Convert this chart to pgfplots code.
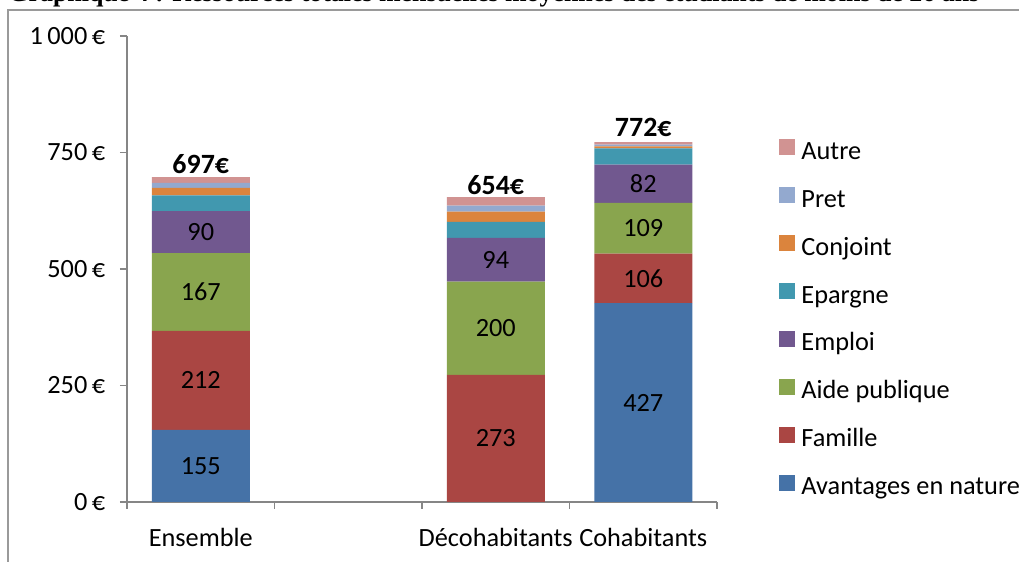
\documentclass[border=0pt]{standalone}
\usepackage{fontspec}
\setmainfont{Carlito}
\newfontfamily\titlefont{Liberation Serif}
\usepackage{pgfplots}
\usepackage{pgfplotstable}
\pgfplotsset{compat=1.18}

\definecolor{cAv}{HTML}{4572A7}
\definecolor{cFam}{HTML}{AA4643}
\definecolor{cAide}{HTML}{89A54E}
\definecolor{cEmp}{HTML}{71588F}
\definecolor{cEp}{HTML}{4198AF}
\definecolor{cConj}{HTML}{DB843D}
\definecolor{cPret}{HTML}{93A9CF}
\definecolor{cAutre}{HTML}{D19392}
\definecolor{axisgray}{HTML}{868686}
\definecolor{framegray}{HTML}{9A9A9A}

% ressources mensuelles moyennes (euros)
\pgfplotstableread{
x av fam aide emp ep conj pret autre total
0 155 212 167 90 34 16 11 12 697
2 0 273 200 94 34 22 13 18 654
3 427 106 109 82 35 4 4 5 772
}\ressources

\pgfplotsset{
  seg/.style={
    draw=none, fill=#1,
    point meta=explicit symbolic,
    nodes near coords={\ifnum\pgfplotspointmeta>0\relax\pgfplotspointmeta\fi},
    every node near coord/.append style={anchor=center, inner sep=0pt,
      font=\fontsize{13.2}{15}\selectfont, text=black},
  },
}

\begin{document}
\begin{tikzpicture}
\useasboundingbox (0,0) rectangle (509.5bp,281bp);
\draw[framegray, line width=1bp] (4bp,0) -- (4bp,276bp) -- (509.5bp,276bp);
\begin{scope}
\clip (0,0) rectangle (509.5bp,281bp);
\node[anchor=base west, inner sep=0pt, font=\titlefont\bfseries\fontsize{13}{15}\selectfont]
  at (4bp,280.4bp) {Graphique 4 : Ressources totales mensuelles moyennes des étudiants de moins de 26 ans};
\end{scope}
\begin{axis}[
  at={(63.5bp,30bp)}, anchor=south west,
  scale only axis, width=295bp, height=233bp,
  ybar stacked, bar width=49bp,
  xmin=-0.5, xmax=3.5, ymin=0, ymax=1000,
  xtick={-0.5,0.5,1.5,2.5,3.5}, xticklabels={},
  extra x ticks={0,2,3},
  extra x tick labels={Ensemble,Décohabitants,Cohabitants},
  extra x tick style={major tick length=0pt},
  ytick={0,250,500,750,1000},
  yticklabels={0\,€,250\,€,500\,€,750\,€,1\,000\,€},
  axis x line*=bottom, axis y line*=left,
  axis line style={draw=axisgray, line width=0.8bp},
  tick style={draw=axisgray, line width=0.8bp},
  tick align=outside, major tick length=3.5bp,
  ticklabel style={font=\fontsize{13.2}{15}\selectfont, text=black},
  yticklabel style={inner sep=0pt, xshift=-7.25bp},
  xticklabel style={inner sep=0pt, yshift=-13bp},
  clip=false,
  reverse legend,
  legend cell align=left,
  legend image code/.code={\fill[#1] (0bp,-2.5bp) rectangle (8bp,5.5bp); \path (11bp,0);},
  legend style={at={(1.1051,0.7811)}, anchor=north west, draw=none, fill=none,
    inner sep=0pt, row sep=12bp, nodes={inner sep=0pt},
    font=\fontsize{13.2}{15}\selectfont},
]
\addplot[seg=cAv] table[x=x, y=av, meta=av] {\ressources};
\addlegendentry{\strut Avantages en nature}
\addplot[seg=cFam] table[x=x, y=fam, meta=fam] {\ressources};
\addlegendentry{\strut Famille}
\addplot[seg=cAide] table[x=x, y=aide, meta=aide] {\ressources};
\addlegendentry{\strut Aide publique}
\addplot[seg=cEmp] table[x=x, y=emp, meta=emp] {\ressources};
\addlegendentry{\strut Emploi}
\addplot[draw=none, fill=cEp] table[x=x, y=ep] {\ressources};
\addlegendentry{\strut Epargne}
\addplot[draw=none, fill=cConj] table[x=x, y=conj] {\ressources};
\addlegendentry{\strut Conjoint}
\addplot[draw=none, fill=cPret] table[x=x, y=pret] {\ressources};
\addlegendentry{\strut Pret}
\addplot[draw=none, fill=cAutre, point meta=explicit symbolic,
  nodes near coords={\textbf{\pgfplotspointmeta€}},
  every node near coord/.append style={anchor=south, inner sep=0pt, yshift=3bp,
    font=\fontsize{14}{16}\selectfont, text=black}]
  table[x=x, y=autre, meta=total] {\ressources};
\addlegendentry{\strut Autre}
\end{axis}
\end{tikzpicture}
\end{document}
